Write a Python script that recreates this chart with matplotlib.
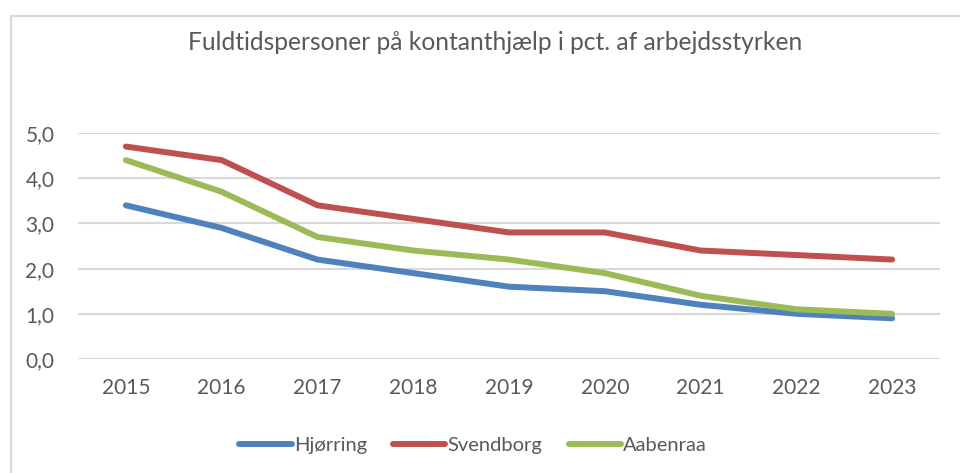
import matplotlib
matplotlib.use("Agg")
import matplotlib.pyplot as plt
from matplotlib.lines import Line2D
from matplotlib.ticker import FuncFormatter

plt.rcParams['font.family'] = ['Lato', 'DejaVu Sans']

years = ["2015", "2016", "2017", "2018", "2019", "2020", "2021", "2022", "2023"]
hjorring = [3.4, 2.9, 2.2, 1.9, 1.6, 1.5, 1.2, 1.0, 0.9]
svendborg = [4.7, 4.4, 3.4, 3.1, 2.8, 2.8, 2.4, 2.3, 2.2]
aabenraa = [4.4, 3.7, 2.7, 2.4, 2.2, 1.9, 1.4, 1.1, 1.0]

series = [
    ("Hjørring", hjorring, "#4F81BD"),
    ("Svendborg", svendborg, "#C0504D"),
    ("Aabenraa", aabenraa, "#9BBB59"),
]

W, H = 960, 473
fig = plt.figure(figsize=(W / 100, H / 100), dpi=100)
ax = fig.add_axes([78 / W, 1 - 359 / H, (940 - 78) / W, (359 - 133) / H])

x = list(range(len(years)))
for name, vals, col in series:
    ax.plot(x, vals, color=col, linewidth=4.3, solid_capstyle="round",
            solid_joinstyle="round", label=name)

ax.set_xlim(-0.5, len(years) - 0.5)
ax.set_ylim(0, 5)
ax.set_yticks([0, 1, 2, 3, 4, 5])
ax.yaxis.set_major_formatter(FuncFormatter(lambda v, p: f"{v:.1f}".replace(".", ",")))
ax.set_xticks(x)
ax.set_xticklabels(years)
ax.tick_params(axis="both", length=0, labelsize=15, labelcolor="#595959")
ax.tick_params(axis="y", pad=17)
ax.tick_params(axis="x", pad=14)
ax.grid(axis="y", color="#D9D9D9", linewidth=1.5)
ax.set_axisbelow(True)
for s in ax.spines.values():
    s.set_visible(False)

fig.text(495 / W, 1 - 42 / H, "Fuldtidspersoner på kontanthjælp i pct. af arbejdsstyrken",
         ha="center", va="center", fontsize=17.7, color="#595959")

# chart border (only left and top edges are inside the picture)
fig.add_artist(Line2D([11 / W, 11 / W], [0, 1 - 16 / H], transform=fig.transFigure,
                      color="#D9D9D9", linewidth=1.5))
fig.add_artist(Line2D([11 / W, 1], [1 - 16 / H, 1 - 16 / H], transform=fig.transFigure,
                      color="#D9D9D9", linewidth=1.5))

leg = fig.legend(loc="center", bbox_to_anchor=(473 / W, 1 - 445 / H), ncol=3,
                 frameon=False, fontsize=14.5, handlelength=2.6, handletextpad=0.1,
                 columnspacing=1.3)
for t in leg.get_texts():
    t.set_color("#595959")

fig.savefig("out.png", dpi=100)
